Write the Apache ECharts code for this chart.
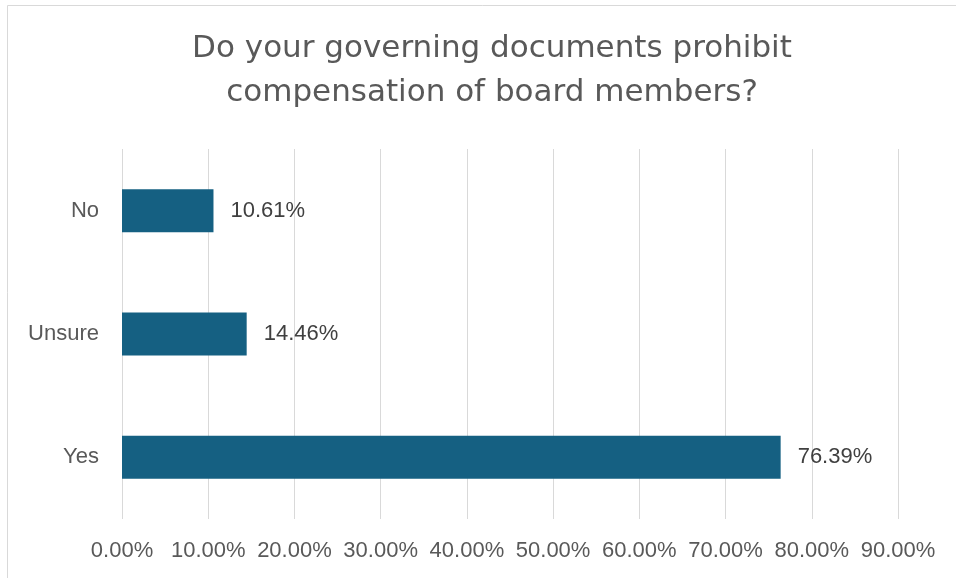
<!DOCTYPE html>
<html>
<head>
<meta charset="utf-8">
<script src="https://cdn.jsdelivr.net/npm/echarts@6/dist/echarts.min.js"></script>
<style>
  html, body { margin: 0; padding: 0; background: #ffffff; }
  #chart { width: 956px; height: 578px; }
</style>
</head>
<body>
<div id="chart"></div>
<script>
// Survey answers, listed bottom to top as drawn on the category axis
const categories = ['Yes', 'Unsure', 'No'];
const shares = [76.39, 14.46, 10.61];
// Percentage axis ticks
const tickValues = [0, 10, 20, 30, 40, 50, 60, 70, 80, 90];

const titleText = 'Do your governing documents prohibit\ncompensation of board members?';
const fontFamily = '"Liberation Sans", Arial, sans-serif';
const titleFont = '"DejaVu Sans", "Liberation Sans", sans-serif';

const chart = echarts.init(document.getElementById('chart'), null, { renderer: 'canvas' });

chart.setOption({
  backgroundColor: '#ffffff',
  animation: false,
  title: {
    text: titleText,
    left: 487,
    top: 22,
    textAlign: 'center',
    textStyle: {
      color: '#595959',
      fontFamily: titleFont,
      fontSize: 31,
      fontWeight: 'normal',
      lineHeight: 44
    }
  },
  graphic: [{
    type: 'rect',
    shape: { x: 7.5, y: 5.5, width: 1200, height: 1200 },
    style: { fill: 'none', stroke: '#d9d9d9', lineWidth: 1 },
    silent: true
  }],
  grid: {
    left: 122,
    right: 58,
    top: 149,
    bottom: 59,
    containLabel: false
  },
  xAxis: {
    type: 'value',
    min: tickValues[0],
    max: tickValues[tickValues.length - 1],
    interval: tickValues[1] - tickValues[0],
    axisLine: { show: false },
    axisTick: { show: false },
    splitLine: { show: true, lineStyle: { color: '#d9d9d9', width: 1 } },
    axisLabel: {
      color: '#595959',
      fontFamily: fontFamily,
      fontSize: 22,
      margin: 21,
      formatter: v => v.toFixed(2) + '%'
    }
  },
  yAxis: {
    type: 'category',
    data: categories,
    axisLine: { show: false },
    axisTick: { show: false },
    splitLine: { show: false },
    axisLabel: {
      color: '#595959',
      fontFamily: fontFamily,
      fontSize: 22,
      margin: 23
    }
  },
  series: [{
    type: 'bar',
    data: shares,
    barWidth: 43,
    itemStyle: { color: '#156082' },
    label: {
      show: true,
      position: 'right',
      distance: 17,
      color: '#404040',
      fontFamily: fontFamily,
      fontSize: 22,
      formatter: p => p.value.toFixed(2) + '%'
    }
  }]
});
</script>
</body>
</html>
